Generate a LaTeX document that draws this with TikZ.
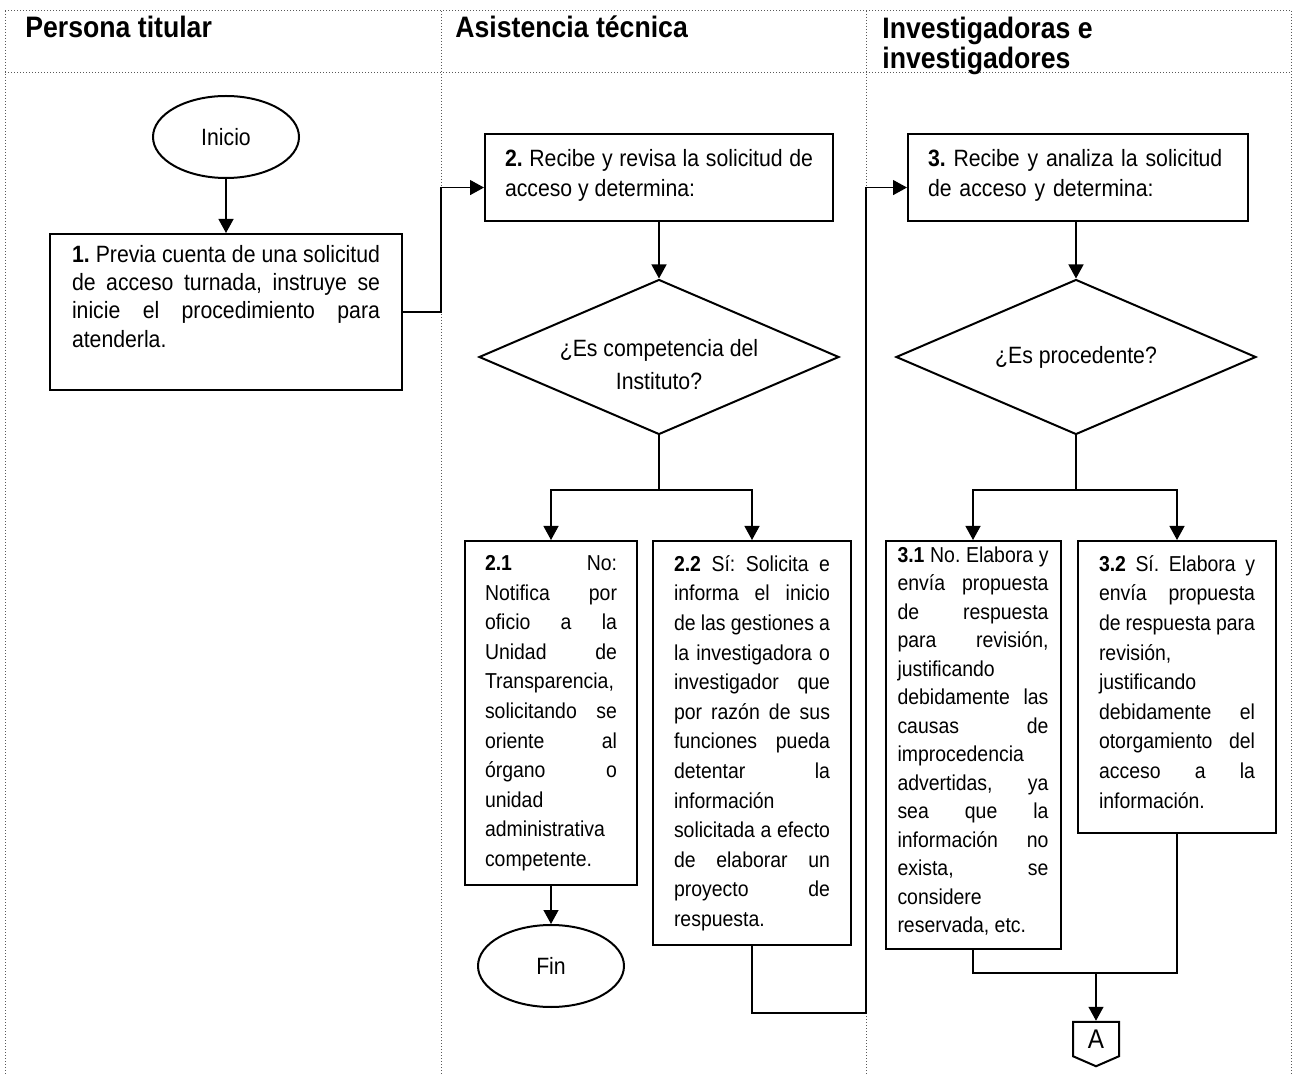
\documentclass[tikz,border=0pt]{standalone}
\usepackage{fontspec}
\setmainfont{Liberation Sans}[FakeStretch=0.9]
\usetikzlibrary{shapes.geometric,shapes.symbols,arrows.meta}
\hyphenpenalty=10000
\frenchspacing
\newcommand{\boxpad}[1]{\rule[-#1]{0pt}{#1}}

\begin{document}
\begin{tikzpicture}[x=0.5pt,y=-0.5pt,
  lane/.style={densely dotted, black!65, line width=0.5pt},
  head/.style={anchor=north west, inner sep=0pt, align=left, font=\fontsize{14.8}{15}\selectfont\bfseries, execute at begin node={\rule{0pt}{12pt}}},
  box/.style={draw, line width=1pt, anchor=north, align=justify, font=\fontsize{11.8}{14.2}\selectfont},
  subbox/.style={box, inner xsep=10.5pt, inner ysep=7.2pt, font=\fontsize{10.8}{14.8}\selectfont},
  term/.style={draw, ellipse, line width=1pt, minimum width=73pt, minimum height=41pt, inner sep=0pt, font=\fontsize{11.8}{13}\selectfont},
  decision/.style={draw, diamond, aspect=2.3, line width=1pt, minimum width=180pt, minimum height=77.5pt, inner sep=0pt, align=center, font=\fontsize{11.8}{16.5}\selectfont},
  conn/.style={line width=0.65pt},
  flow/.style={conn, -{Triangle[width=7.5pt,length=7pt]}}]

\useasboundingbox (0,0) rectangle (1296,1074);

% carriles
\draw[lane] (5,11) -- (1291,11);
\draw[lane] (5,73) -- (1291,73);
\foreach \x in {5,441,866,1291} \draw[lane] (\x,11) -- (\x,1074);

\node[head] (h1) at (25,13) {Persona titular};
\node[head] (h2) at (455,13) {Asistencia técnica};
\node[head] (h3) at (882,17) {Investigadoras e\\investigadores};

% persona titular
\node[term] (inicio) at (226,137) {Inicio};
\node[box, inner xsep=11pt, inner ysep=5.5pt, text width=154pt] (b1) at (226,233)
  {\textbf{1.} Previa cuenta de una solicitud\linebreak de acceso turnada, instruye se\linebreak inicie el procedimiento para\linebreak atenderla.\boxpad{16pt}};

% asistencia tecnica
\node[box, inner xsep=10pt, inner ysep=7.5pt, text width=154pt, font=\fontsize{11.8}{15}\selectfont] (b2) at (659,133)
  {\textbf{2.} Recibe y revisa la solicitud de\linebreak acceso y determina:\boxpad{5pt}};
\node[decision] (d1) at (659,357) {\rule{0pt}{16pt}¿Es competencia del\\Instituto?};
\coordinate (split1) at (659,490);
\node[subbox, text width=66pt, inner xsep=10pt] (b21) at (551,540)
  {\textbf{2.1} No:\linebreak Notifica por\linebreak oficio a la\linebreak Unidad de\linebreak Transparencia,\linebreak solicitando se\linebreak oriente al\linebreak órgano o\linebreak unidad\linebreak administrativa\linebreak competente.};
\node[subbox, text width=78pt] (b22) at (752,540)
  {\textbf{2.2} Sí: Solicita e\linebreak informa el inicio\linebreak de las gestiones a\linebreak la investigadora o\linebreak investigador que\linebreak por razón de sus\linebreak funciones pueda\linebreak detentar la\linebreak información\linebreak solicitada a efecto\linebreak de elaborar un\linebreak proyecto de\linebreak respuesta.};
\node[term] (fin) at (551,966) {Fin};

% investigadoras e investigadores
\node[box, align=left, inner xsep=10pt, inner ysep=7.5pt, text width=150pt, font=\fontsize{11.8}{15}\selectfont] (b3) at (1078,133)
  {\textbf{3.} Recibe y analiza la solicitud\\de acceso y determina:\boxpad{5pt}};
\node[decision] (d2) at (1076,357) {¿Es procedente?};
\coordinate (split2) at (1076,490);
\node[subbox, text width=75.5pt, inner xsep=6pt, inner ysep=2.7pt, font=\fontsize{10.8}{14.25}\selectfont] (b31) at (973,540)
  {\textbf{3.1} No. Elabora y\linebreak envía propuesta\linebreak de respuesta\linebreak para revisión,\linebreak justificando\linebreak debidamente las\linebreak causas de\linebreak improcedencia\linebreak advertidas, ya\linebreak sea que la\linebreak información no\linebreak exista, se\linebreak considere\linebreak reservada, etc.\boxpad{5.3pt}};
\node[subbox, text width=78pt] (b32) at (1177,540)
  {\textbf{3.2} Sí. Elabora y\linebreak envía propuesta\linebreak de respuesta para\linebreak revisión,\linebreak justificando\linebreak debidamente el\linebreak otorgamiento del\linebreak acceso a la\linebreak información.\boxpad{5.3pt}};
\coordinate (merge) at (1096,973);
\node[draw, signal, signal to=south, signal from=nowhere, signal pointer angle=133, line width=1pt, minimum width=23pt, minimum height=19pt, inner sep=0pt, font=\fontsize{13.5}{14}\selectfont] (A) at (1096,1039) {A};

% conectores
\coordinate (turn1) at (441,250);
\coordinate (turn2) at (866,1013);
\draw[flow] (inicio) -- (b1);
\draw[flow] (b1.east) -| (turn1) |- ([yshift=-5pt]b2.west);
\draw[flow] (b2) -- (d1);
\draw[conn] (d1.south) -- (split1);
\draw[flow] (split1) -| (b21.north);
\draw[flow] (split1) -| (b22.north);
\draw[flow] (b21) -- (fin);
\draw[flow] (b22.south) |- (turn2) |- ([yshift=-5pt]b3.west);
\draw[flow] (b3.south -| d2.north) -- (d2);
\draw[conn] (d2.south) -- (split2);
\draw[flow] (split2) -| (b31.north);
\draw[flow] (split2) -| (b32.north);
\draw[conn] (b31.south) |- (merge) -| (b32.south);
\draw[flow] (merge) -- (A);
\end{tikzpicture}
\end{document}
